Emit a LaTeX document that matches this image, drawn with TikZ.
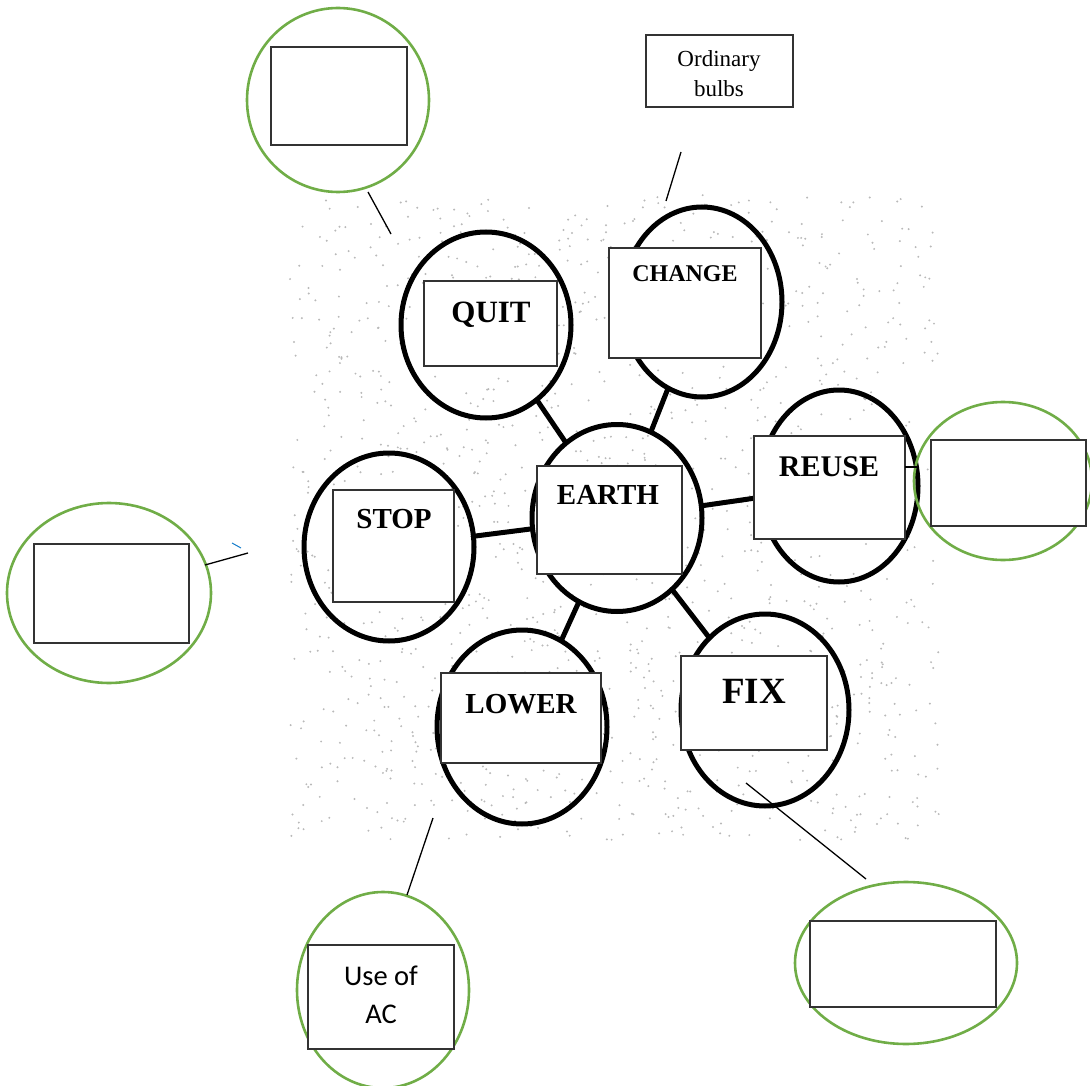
\documentclass[tikz,border=0pt]{standalone}
\usepackage{fontspec}
\setmainfont{Liberation Serif}
\newfontfamily\calib{Carlito}
\newfontfamily\tms{Liberation Serif}
\usetikzlibrary{shapes.geometric}
\definecolor{grn}{HTML}{70AD47}
\tikzset{
  blob/.style={ellipse, draw=black, line width=5pt, inner sep=0pt, outer sep=0pt},
  hub/.style={line width=5pt, black},
  lbl/.style={draw=black!80, line width=1.3pt, fill=white, inner sep=0pt},
  ring/.style={ellipse, draw=grn, line width=2.6pt, inner sep=0pt},
  word/.style={font=\bfseries\fontsize{29}{34}\selectfont, inner sep=0pt, anchor=base},
  thin/.style={line width=1.3pt, black},
}
\begin{document}
\begin{tikzpicture}[x=1pt,y=-1pt]
\useasboundingbox (0,0) rectangle (1090,1086);
% stippled background
\pgfmathsetseed{7}
\foreach \i in {1,...,1400}{
  \pgfmathsetmacro\dx{290+650*rnd}
  \pgfmathsetmacro\dy{195+645*rnd}
  \fill[gray!55] (\dx,\dy) circle (1.1pt);
}
% black ellipses
\node[blob, minimum width=170, minimum height=186] (quit) at (486,325) {};
\node[blob, minimum width=160, minimum height=190] (change) at (702,302) {};
\node[blob, minimum width=158, minimum height=192] (reuse) at (839,486) {};
\node[blob, minimum width=170, minimum height=187] (earth) at (617,518) {};
\node[blob, minimum width=170, minimum height=188] (stop) at (389,547) {};
\node[blob, minimum width=170, minimum height=194] (lower) at (522,727) {};
\node[blob, minimum width=168, minimum height=192] (fix) at (765,710) {};
% hub connectors
\draw[hub] (earth) -- (quit);
\draw[hub] (earth) -- (change);
\draw[hub] (earth) -- (reuse);
\draw[hub] (earth) -- (stop);
\draw[hub] (earth) -- (lower);
\draw[hub] (earth) -- (fix);
% label boxes
\node[lbl, minimum width=133, minimum height=85] (quitbox) at (490.5,323.5) {};
\node[lbl, minimum width=152, minimum height=110] (changebox) at (685,303) {};
\node[lbl, minimum width=151, minimum height=103] (reusebox) at (829.5,487.5) {};
\node[lbl, minimum width=145, minimum height=108] (earthbox) at (609.5,520) {};
\node[lbl, minimum width=121, minimum height=112] (stopbox) at (393.5,546) {};
\node[lbl, minimum width=160, minimum height=90] (lowerbox) at (521,718) {};
\node[lbl, minimum width=146, minimum height=94] (fixbox) at (754,703) {};
\node[word, font=\bfseries\fontsize{31}{36}\selectfont] (quitt) at (491,322) {QUIT};
\node[word, font=\bfseries\fontsize{24}{28}\selectfont] (changet) at (685,281) {CHANGE};
\node[word, font=\bfseries\fontsize{30}{34}\selectfont] (reuset) at (829,476) {REUSE};
\node[word] (eartht) at (608,504) {EARTH};
\node[word] (stopt) at (394,528) {STOP};
\node[word] (lowert) at (521,713) {LOWER};
\node[word, font=\bfseries\fontsize{37}{42}\selectfont] (fixt) at (754,703) {FIX};
% green rings with boxes
\node[ring, minimum width=182, minimum height=184] (r1) at (338,100) {};
\node[lbl, minimum width=136, minimum height=98] (r1box) at (339,96) {};
\node[ring, minimum width=204, minimum height=180] (r2) at (109,593) {};
\node[lbl, minimum width=155, minimum height=99] (r2box) at (111.5,593.5) {};
\node[ring, minimum width=178, minimum height=158] (r3) at (1003,481) {};
\node[lbl, minimum width=155, minimum height=86] (r3box) at (1008.5,483) {};
\node[ring, minimum width=172, minimum height=196] (r4) at (383,990) {};
\node[lbl, minimum width=146, minimum height=104] (r4box) at (381,997) {};
\node[inner sep=0pt, anchor=base, font=\calib\fontsize{28.5}{38}\selectfont] (r4t) at (381,985) {Use of};
\node[inner sep=0pt, anchor=base, font=\calib\fontsize{28.5}{38}\selectfont] (r4t2) at (381,1023) {AC};
\node[ring, minimum width=222, minimum height=162] (r5) at (906,963) {};
\node[lbl, minimum width=186, minimum height=86] (r5box) at (903,964) {};
% ordinary bulbs
\node[lbl, minimum width=147, minimum height=72] (bulbs) at (719.5,71) {};
\node[inner sep=0pt, anchor=base, font=\tms\fontsize{23}{28}\selectfont] (bulbst) at (719,67) {Ordinary};
\node[inner sep=0pt, anchor=base, font=\tms\fontsize{23}{28}\selectfont] (bulbst2) at (719,97) {bulbs};
% thin connectors
\coordinate (a1) at (368,192); \coordinate (a2) at (391,234);
\coordinate (b1) at (681,152); \coordinate (b2) at (666,201);
\coordinate (c1) at (205,565); \coordinate (c2) at (248,553);
\coordinate (d1) at (905,467); \coordinate (d2) at (918,467);
\coordinate (e1) at (746,783); \coordinate (e2) at (866,879);
\coordinate (f1) at (433,818); \coordinate (f2) at (407,895);
\coordinate (g1) at (232,543); \coordinate (g2) at (241,548);
\draw[thin] (a1) -- (a2);
\draw[thin] (b1) -- (b2);
\draw[thin] (c1) -- (c2);
\draw[thin] (d1) -- (d2);
\draw[thin] (e1) -- (e2);
\draw[thin] (f1) -- (f2);
\draw[line width=1pt, color=cyan!60!blue] (g1) -- (g2);
\end{tikzpicture}
\end{document}
